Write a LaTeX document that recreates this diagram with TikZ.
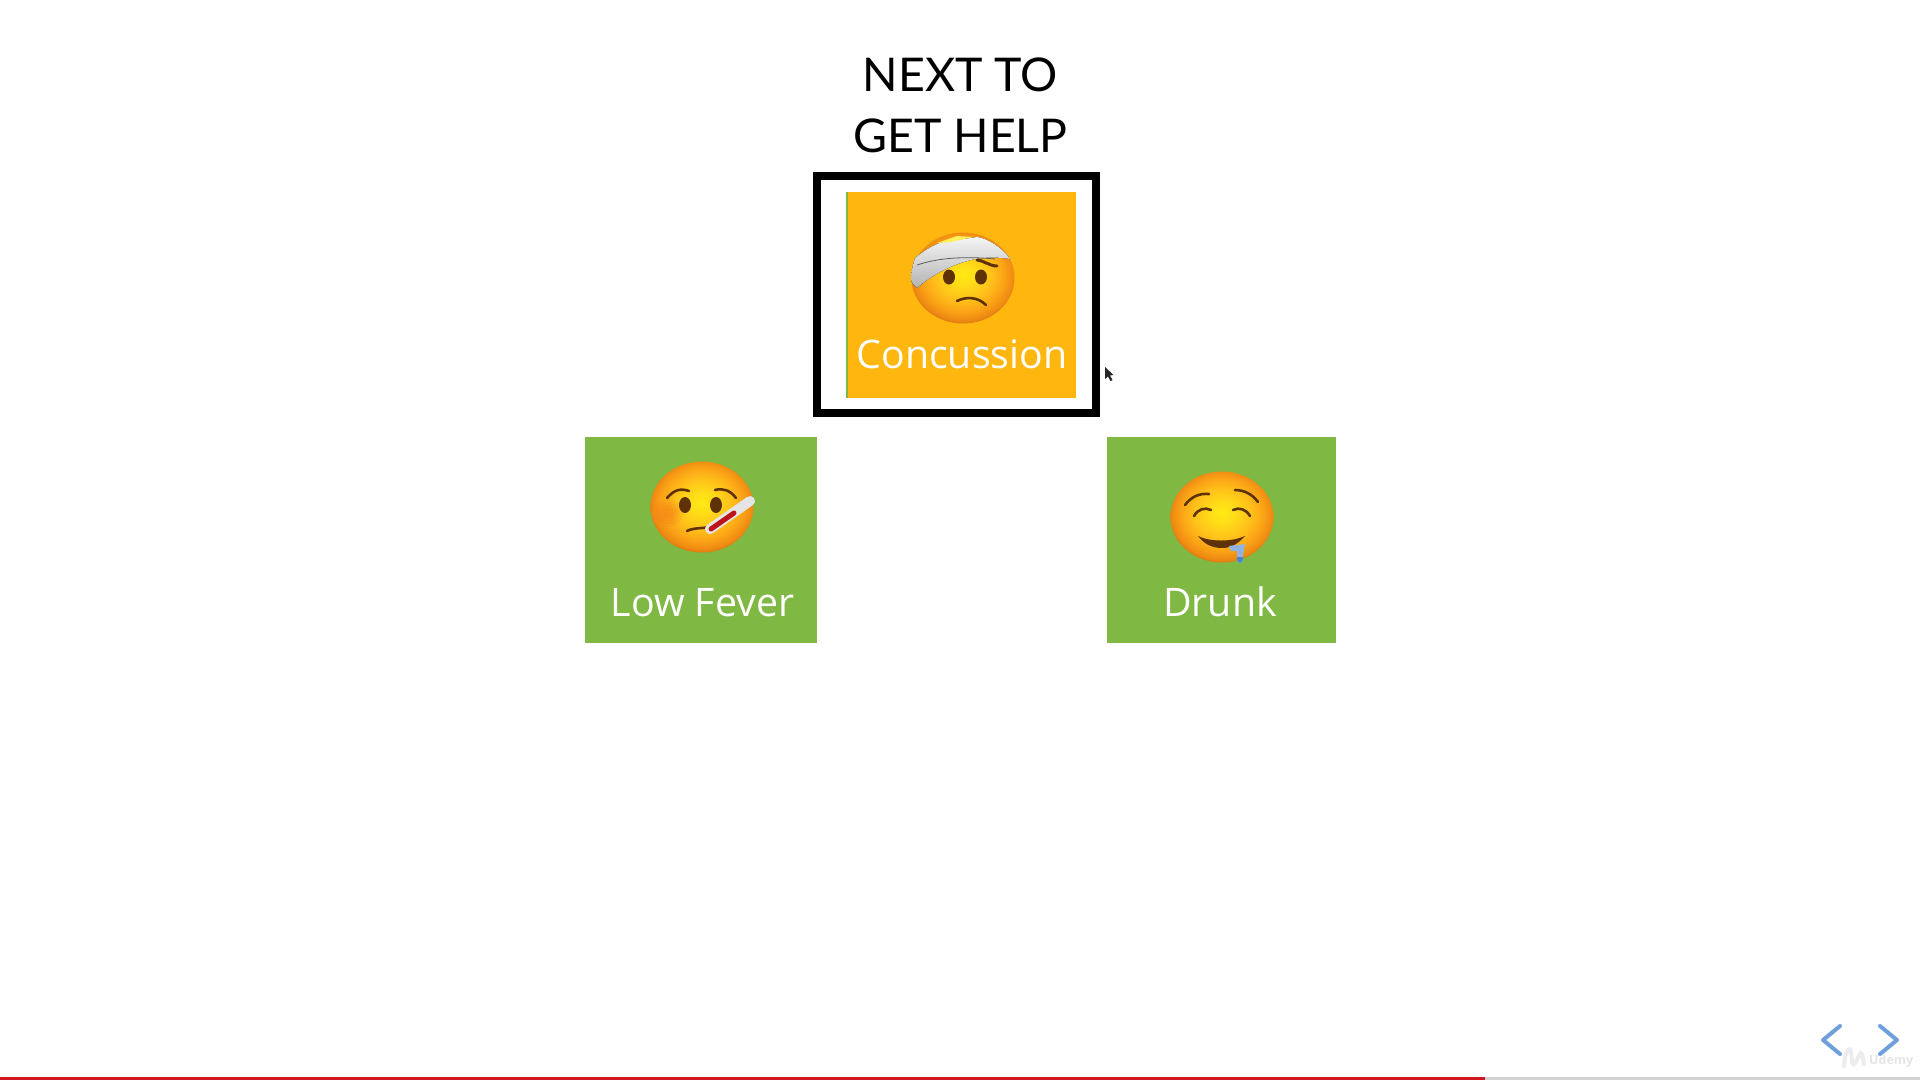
\documentclass[tikz,border=0pt]{standalone}
\usepackage{fontspec}
\setmainfont{Open Sans}
\newfontfamily\titlefont{Lato}
\usetikzlibrary{shapes.geometric}
\definecolor{cardgreen}{HTML}{7FB843}
\definecolor{cardorange}{HTML}{FFB60F}
\definecolor{facebrown}{HTML}{5E3206}
\definecolor{navblue}{HTML}{709FDC}
\definecolor{barred}{HTML}{D0161E}
\definecolor{bargrey}{HTML}{D2D2D2}
\definecolor{faceA}{HTML}{FFEA12}
\definecolor{faceB}{HTML}{FFDC18}
\definecolor{faceC}{HTML}{FFC01A}
\definecolor{faceD}{HTML}{FBA316}
\definecolor{faceE}{HTML}{EE8A12}
\definecolor{faceF}{HTML}{D26E10}
\definecolor{blushred}{HTML}{F26A1E}
\pgfdeclareradialshading{faceshade}{\pgfpoint{0bp}{2.5bp}}{%
 color(0bp)=(faceA);
 color(6bp)=(faceB);
 color(14bp)=(faceC);
 color(20bp)=(faceD);
 color(24.5bp)=(faceE);
 color(27.5bp)=(faceF);
 color(50bp)=(faceF)}
\tikzset{
  card/.style={anchor=north west,inner sep=0pt,minimum width=#1,minimum height=206pt},
  cardlabel/.style={anchor=base,inner sep=0pt,text=white,font=\fontsize{39.3}{39.3}\selectfont},
  titleline/.style={anchor=base,inner sep=0pt,text=black,font=\titlefont\fontsize{46.5}{46.5}\selectfont},
  faceball/.style={ellipse,inner sep=0pt,minimum width=103pt,minimum height=91pt,shading=faceshade},
  featline/.style={draw=facebrown,line width=2.6pt,line cap=round},
  eyeball/.style={fill=facebrown},
  navarrow/.style={draw=navblue,line width=4pt,line cap=round,line join=round},
}
\begin{document}
\begin{tikzpicture}[x=1pt,y=-1pt]
\useasboundingbox (0,0) rectangle (1920,1080);
\fill[white] (0,0) rectangle (1920,1080);
% title
\node[titleline] (titleA) at (960.5,91) {NEXT TO};
\node[titleline] (titleB) at (960.5,152) {GET HELP};
% highlight frame
\node[draw=black,line width=8pt,inner sep=0pt,minimum width=279pt,minimum height=237pt] (frame) at (956.5,294.5) {};
% cards
\node[card=232pt,fill=cardgreen] (feverCard) at (585,437) {};
\node[card=229pt,fill=cardgreen] (drunkCard) at (1107,437) {};
\node[card=230pt,fill=cardorange] (concCard) at (846,192) {};
\fill[cardgreen] (846,192) rectangle (848,398);
% concussion face
\begin{scope}[shift={(963,278)}]
  \node[faceball] (faceCon) at (0,0) {};
  \fill[eyeball] (-14,-1) ellipse (6pt and 7.5pt);
  \fill[eyeball] (18,-1) ellipse (6pt and 7.5pt);
  \draw[featline] (-6,23) .. controls (2,19) and (14,18) .. (23,27);
  \fill[top color=white!92!gray,bottom color=gray!60] (-48,-20) .. controls (-38,-28) and (-30,-33) .. (-20,-36)
     -- (14,-41) .. controls (24,-40) and (40,-30) .. (47,-19)
     .. controls (35,-21) and (24,-21) .. (12,-19)
     .. controls (-10,-14) and (-30,-4) .. (-46,10)
     .. controls (-50,6) and (-52,4) .. (-52,2)
     .. controls (-52,-6) and (-50,-14) .. (-48,-20) -- cycle;
  \draw[gray!75!black,line width=.8pt] (-46,-13) .. controls (-25,-20) and (0,-22) .. (32,-19);
  \fill[faceA!70!white] (-26,-35) -- (-6,-42) -- (10,-41) -- (-12,-36) -- cycle;
  \draw[draw=facebrown,line width=3pt,line cap=round] (14,-18) .. controls (20,-18) and (26,-12) .. (34,-12);
\end{scope}
% low fever face
\begin{scope}[shift={(702,507)}]
  \node[faceball] (faceFev) at (0,0) {};
  \foreach \r in {5,8,11,14}{\fill[blushred,opacity=.13] (-33,6) ellipse (\r pt and \r pt);}
  \fill[eyeball] (-17,-2) ellipse (6pt and 8pt);
  \fill[eyeball] (14,-2) ellipse (6pt and 8pt);
  \draw[featline] (-35,-9) .. controls (-28,-17) and (-22,-19) .. (-13,-16);
  \draw[featline] (13,-17) .. controls (21,-19) and (28,-17) .. (34,-9);
  \draw[featline] (-15,24) .. controls (-8,20) and (4,22) .. (12,19);
  \draw[white!80!gray,line width=10pt,line cap=round] (8,22) -- (48,-6);
  \draw[barred!90!black,line width=5pt,line cap=round] (9,22) -- (32,6);
\end{scope}
% drunk face
\begin{scope}[shift={(1222,517)}]
  \node[faceball] (faceDru) at (0,0) {};
  \draw[featline] (-37,-12) .. controls (-31,-20) and (-23,-24) .. (-13,-23);
  \draw[featline] (13,-27) .. controls (23,-27) and (31,-22) .. (36,-15);
  \draw[featline] (-28,-1) .. controls (-24,-8) and (-17,-10) .. (-11,-7);
  \draw[featline] (11,-7) .. controls (17,-10) and (24,-8) .. (28,-1);
  \fill[facebrown] (-24,19) .. controls (-12,25) and (10,25) .. (23,19)
     .. controls (15,28) and (8,31) .. (0,31)
     .. controls (-10,31) and (-18,27) .. (-24,19) -- cycle;
  \fill[white!70!cyan!80!blue] (7,29) -- (23,27) -- (21,38) -- (21,43) .. controls (20,48) and (15,47) .. (15,42) -- (15,34) -- (9,34) -- cycle;
  \fill[cyan!55!blue!80] (15,40) .. controls (15,48) and (21,48) .. (21,40) -- cycle;
\end{scope}
% labels
\node[cardlabel] (concLabel) at (962,368.5) {Concussion};
\node[cardlabel] (feverLabel) at (702.5,616) {Low Fever};
\node[cardlabel] (drunkLabel) at (1220,616) {Drunk};
% cursor
\fill[black!85] (1105,367) -- (1105,379) -- (1108,376.5) -- (1110.5,381) -- (1112.5,380) -- (1110,375.5) -- (1113.5,375) -- cycle;
% nav arrows
\draw[navarrow] (1840,1026) -- (1823,1040) -- (1840,1054);
\draw[navarrow] (1880,1026) -- (1897,1040) -- (1880,1054);
% watermark
\draw[white!85!gray,line width=4pt,line cap=round] (1844,1066) .. controls (1845,1050) and (1850,1046) .. (1851,1052) .. controls (1852,1062) and (1852,1068) .. (1856,1062) .. controls (1858,1058) and (1860,1050) .. (1862,1054) -- (1864,1064);
\node[anchor=base west,inner sep=0pt,text=white!80!gray,font=\bfseries\fontsize{12.5}{12.5}\selectfont] (mark) at (1869,1064) {Udemy};
% progress bar
\fill[bargrey] (1485,1077) rectangle (1920,1080);
\fill[barred] (0,1077) rectangle (1485,1080);
\end{tikzpicture}
\end{document}
